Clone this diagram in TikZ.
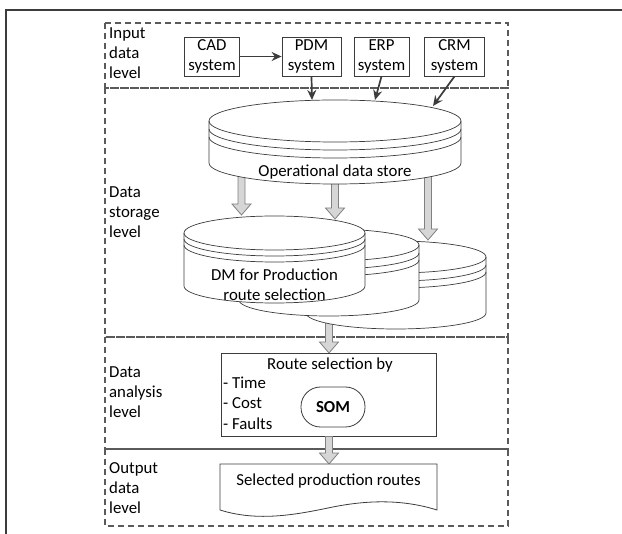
\documentclass[tikz,border=0pt]{standalone}
\usepackage{fontspec}
\setmainfont{Carlito}
\usetikzlibrary{arrows.meta}
\definecolor{dashc}{HTML}{5A5A5A}
\definecolor{linec}{HTML}{3C3C3C}
\definecolor{arrfill}{HTML}{D6D6D6}
\definecolor{arrdraw}{HTML}{808080}
\tikzset{
  dsh/.style={draw=dashc, line width=1.1pt, dash pattern=on 6pt off 4pt},
  inbox/.style={draw=linec, line width=0.8pt, fill=white, align=center, inner sep=0pt, minimum height=39pt},
  lvl/.style={anchor=west, align=left, inner sep=0pt},
  cyl/.style={draw=linec, line width=0.7pt, fill=white},
  stripe/.style={draw=linec, line width=0.7pt},
  garrow/.style={draw=arrdraw, fill=arrfill, line width=0.8pt},
  blk/.style={draw=linec, line width=1.7pt, -{Stealth[length=10pt,width=9pt]}},
  txt/.style={inner sep=0pt, anchor=mid},
  somnode/.style={draw=linec, line width=0.8pt, rounded corners=19.5pt, minimum width=64pt, minimum height=40pt, inner sep=0pt},
}
% cylinder: cx, rx, top centre y, bottom centre y, ry, stripe1, stripe2
\newcommand{\cylz}[7]{%
  \filldraw[cyl] ({#1-#2},#3) -- ({#1-#2},#4)
     arc[start angle=180,end angle=360,x radius=#2pt,y radius=#5pt]
     -- ({#1+#2},#3)
     arc[start angle=0,end angle=180,x radius=#2pt,y radius=#5pt] -- cycle;
  \draw[stripe] ({#1-#2},#3) arc[start angle=180,end angle=360,x radius=#2pt,y radius=#5pt];
  \draw[stripe] ({#1-#2},{#3+#6}) arc[start angle=180,end angle=360,x radius=#2pt,y radius=#5pt];
  \draw[stripe] ({#1-#2},{#3+#7}) arc[start angle=180,end angle=360,x radius=#2pt,y radius=#5pt];
}
% grey block arrow: x, y start, y tip
\newcommand{\garr}[3]{%
  \filldraw[garrow] ({#1-3.5},#2) -- ({#1-3.5},{#3-11}) -- ({#1-9.5},{#3-11})
    -- (#1,#3) -- ({#1+9.5},{#3-11}) -- ({#1+3.5},{#3-11}) -- ({#1+3.5},#2) -- cycle;
}
\begin{document}
\begin{tikzpicture}[x=1pt,y=-1pt,font=\fontsize{16.8}{19.8}\selectfont]
\useasboundingbox (0,0) rectangle (622,534);
% outer frame
\draw[line width=1.2pt, draw=linec] (622,10) -- (6,10) -- (6,534);
% level boxes
\draw[dsh] (105,23) rectangle (508,88);
\draw[dsh] (105,88) rectangle (508,337);
\draw[dsh] (105,337) rectangle (508,449);
\draw[dsh] (105,449) rectangle (508,526);
% level labels
\node[lvl] (l1) at (109,53) {Input\\data\\level};
\node[lvl] (l2) at (109,212) {Data\\storage\\level};
\node[lvl] (l3) at (109,392) {Data\\analysis\\level};
\node[lvl] (l4) at (109,488) {Output\\data\\level};
% input systems
\node[inbox, minimum width=55pt] (cad) at (212,56.5) {CAD\\system};
\node[inbox, minimum width=59pt] (pdm) at (311.5,56.5) {PDM\\system};
\node[inbox, minimum width=55pt] (erp) at (381.5,56.5) {ERP\\system};
\node[inbox, minimum width=60pt] (crm) at (454.5,56.5) {CRM\\system};
\draw[blk] (cad) -- (pdm);
% arrow from data marts to analysis (behind cylinders)
\garr{329}{300}{353}
% data mart cylinders
\cylz{396}{90}{257}{313}{16}{8}{15}
\cylz{329}{90}{245}{300}{16}{8}{15}
\cylz{274.5}{90.5}{233}{286}{17}{6}{12}
\node[align=center, inner sep=0pt] (dm) at (274.5,285) {DM for Production\\route selection};
% arrows from ODS to data marts
\garr{241.5}{170}{215}
\garr{335}{170}{219}
\garr{428}{170}{240}
% operational data store
\cylz{335}{126}{121}{163}{21}{8}{16}
\node[txt] (ods) at (335,174) {Operational data store};
\coordinate (odsA) at (312,100);
\coordinate (odsB) at (375,100);
\coordinate (odsC) at (433,106);
\draw[blk] (pdm.south) -- (odsA);
\draw[blk] (erp.south) -- (odsB);
\draw[blk] (crm.south) -- (odsC);
% analysis
\node[draw=linec, line width=0.8pt, fill=white, minimum width=215pt, minimum height=83pt, inner sep=0pt] (ana) at (328.5,394.5) {};
\node[txt] (rsel) at (330,367) {Route selection by};
\node[txt, anchor=mid west] (ctime) at (223,386) {- Time};
\node[txt, anchor=mid west] (ccost) at (223,406.5) {- Cost};
\node[txt, anchor=mid west] (cfault) at (223,427) {- Faults};
\node[somnode] (som) at (333,407) {\textbf{SOM}};
\garr{329}{436.5}{464}
% output document
\filldraw[draw=linec, line width=0.8pt, fill=white] (220,464) -- (437,464) -- (437,510)
  .. controls (405,500) and (370,499) .. (328,508)
  .. controls (290,516) and (255,521) .. (220,510) -- cycle;
\node[txt] (outtxt) at (328.5,483) {Selected production routes};
\end{tikzpicture}
\end{document}
